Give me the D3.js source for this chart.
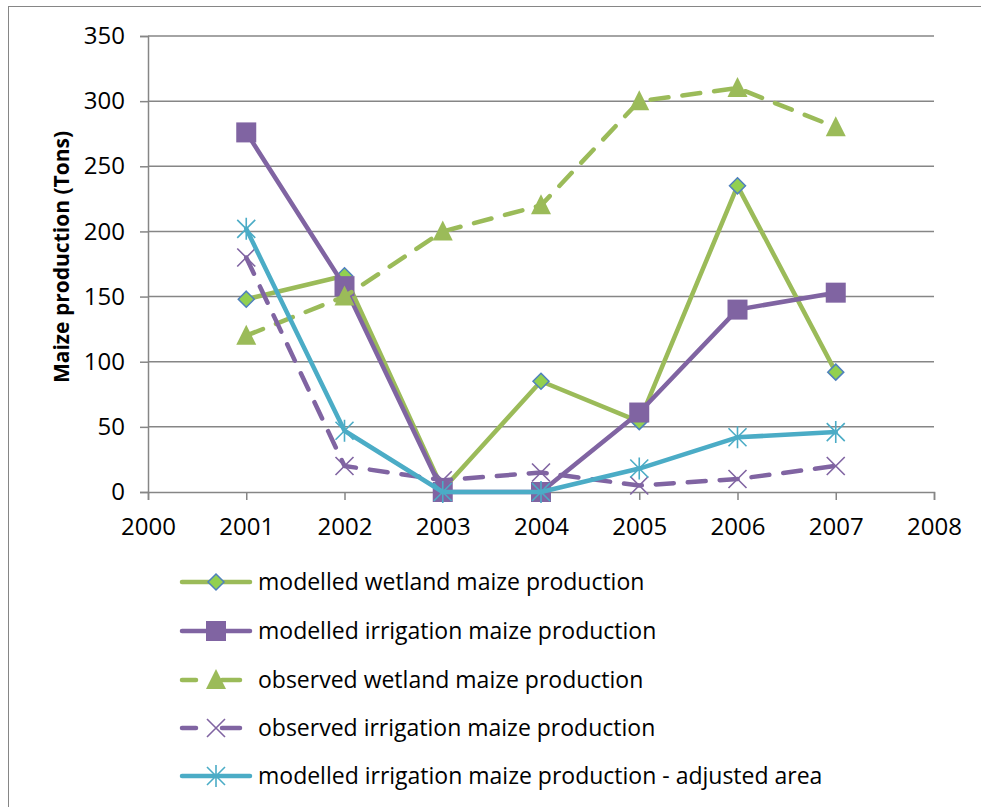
<!DOCTYPE html>
<html><head><meta charset="utf-8">
<script src="https://cdn.jsdelivr.net/npm/d3@7"></script>
<style>body{margin:0;background:#fff}svg{display:block}text{font-family:"Open Sans",sans-serif}</style>
</head><body>
<script>
const years = [2001, 2002, 2003, 2004, 2005, 2006, 2007];
const modelledWetland = [148, 166, 2, 85, 54, 235, 92];
const modelledIrrigation = [276, 158, 0, 0, 61, 140, 153];
const observedWetland = [120, 150, 200, 220, 300, 310, 280];
const observedIrrigation = [180, 20, 9, 15, 5, 10, 20];
const modelledAdjusted = [202, 47, 0, 0, 18, 42, 46];
const xTicks = [2000, 2001, 2002, 2003, 2004, 2005, 2006, 2007, 2008];
const yTicks = [0, 50, 100, 150, 200, 250, 300, 350];
const seriesNames = ["modelled wetland maize production","modelled irrigation maize production","observed wetland maize production","observed irrigation maize production","modelled irrigation maize production - adjusted area"];

const W = 981, H = 807;
const svg = d3.select("body").append("svg").attr("width", W).attr("height", H);
svg.append("rect").attr("x", 8.5).attr("y", 6.5).attr("width", 1000).attr("height", 1000)
  .attr("fill", "none").attr("stroke", "#868686").attr("stroke-width", 1);

const x = d3.scaleLinear().domain([2000, 2008]).range([148, 934]);
const y = d3.scaleLinear().domain([0, 350]).range([492, 36]);
const grid = "#868686";

svg.append("g").selectAll("line").data(yTicks.filter(d => d > 0)).join("line")
  .attr("x1", x(2000)).attr("x2", x(2008)).attr("y1", d => y(d)).attr("y2", d => y(d))
  .attr("stroke", grid).attr("stroke-width", 1.5);

const yAxis = svg.append("g").attr("transform", `translate(${x(2000)},0)`)
  .call(d3.axisLeft(y).tickValues(yTicks).tickSize(8).tickPadding(15));
const xAxis = svg.append("g").attr("transform", `translate(0,${y(0)})`)
  .call(d3.axisBottom(x).tickValues(xTicks).tickFormat(d3.format("d")).tickSize(8).tickPadding(18));
[yAxis, xAxis].forEach(a => {
  a.select(".domain").attr("stroke", grid).attr("stroke-width", 1.5);
  a.selectAll(".tick line").attr("stroke", grid).attr("stroke-width", 1.5);
  a.selectAll("text").attr("font-size", 24).attr("fill", "#000").attr("font-family", "Open Sans");
});
xAxis.selectAll("text").attr("dy", "0.72em");

svg.append("text").attr("transform", `translate(62,257) rotate(-90)`)
  .attr("text-anchor", "middle").attr("dy", "0.35em").attr("font-size", 21).attr("font-weight", "bold").text("Maize production (Tons)");

const green = "#9BBB59", purple = "#8064A2", cyan = "#4BACC6";
const series = [
  {vals: modelledWetland, color: green, dash: null, marker: "diamond"},
  {vals: modelledIrrigation, color: purple, dash: null, marker: "square"},
  {vals: observedWetland, color: green, dash: "18,14", marker: "triangle"},
  {vals: observedIrrigation, color: purple, dash: "18,14", marker: "x"},
  {vals: modelledAdjusted, color: cyan, dash: null, marker: "star"}
];

function drawMarker(g, type, cx, cy, color) {
  if (type === "diamond") {
    g.append("path").attr("d", `M${cx},${cy-8}L${cx+8},${cy}L${cx},${cy+8}L${cx-8},${cy}Z`)
      .attr("fill", "#92D050").attr("stroke", "#4F81BD").attr("stroke-width", 1.5);
  } else if (type === "square") {
    g.append("rect").attr("x", cx-10).attr("y", cy-10).attr("width", 20).attr("height", 20).attr("fill", color);
  } else if (type === "triangle") {
    g.append("path").attr("d", `M${cx},${cy-11}L${cx+10},${cy+9}L${cx-10},${cy+9}Z`).attr("fill", color);
  } else if (type === "x") {
    g.append("path").attr("d", `M${cx-9},${cy-9}L${cx+9},${cy+9}M${cx+9},${cy-9}L${cx-9},${cy+9}`)
      .attr("stroke", color).attr("stroke-width", 1.6);
  } else if (type === "star") {
    g.append("path").attr("d", `M${cx-9},${cy-9}L${cx+9},${cy+9}M${cx+9},${cy-9}L${cx-9},${cy+9}M${cx},${cy-11}L${cx},${cy+11}`)
      .attr("stroke", color).attr("stroke-width", 1.6);
  }
}

const line = d3.line().x((d, i) => x(years[i])).y(d => y(d));
series.forEach(s => {
  const g = svg.append("g");
  g.append("path").attr("d", line(s.vals)).attr("fill", "none").attr("stroke", s.color)
    .attr("stroke-width", 4.5).attr("stroke-linejoin", "round").attr("stroke-linecap", "round")
    .attr("stroke-dasharray", s.dash);
  s.vals.forEach((v, i) => drawMarker(g, s.marker, x(years[i]), y(v), s.color));
});

const legY = [582, 631, 680, 728, 776];
series.forEach((s, i) => {
  const g = svg.append("g");
  const ly = legY[i];
  if (s.dash) {
    g.append("line").attr("x1", 182).attr("x2", 196).attr("y1", ly).attr("y2", ly)
      .attr("stroke", s.color).attr("stroke-width", 4.5).attr("stroke-linecap", "round");
    g.append("line").attr("x1", 222).attr("x2", 240).attr("y1", ly).attr("y2", ly)
      .attr("stroke", s.color).attr("stroke-width", 4.5).attr("stroke-linecap", "round");
  } else {
    g.append("line").attr("x1", 182).attr("x2", 250).attr("y1", ly).attr("y2", ly)
      .attr("stroke", s.color).attr("stroke-width", 4.5).attr("stroke-linecap", "round");
  }
  drawMarker(g, s.marker, 216, ly, s.color);
  g.append("text").attr("x", 258).attr("y", ly).attr("dy", "0.35em").attr("font-size", 23)
    .attr("fill", "#000").text(seriesNames[i]);
});
</script>
</body></html>
